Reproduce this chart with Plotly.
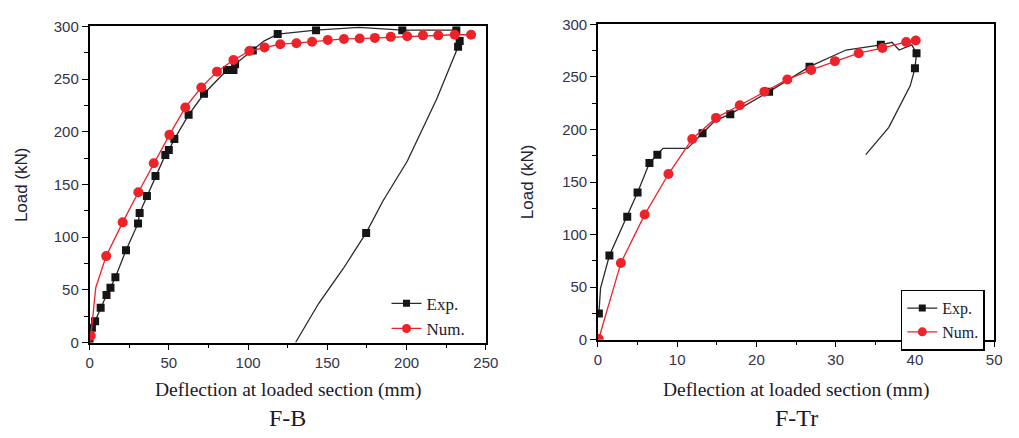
import plotly.graph_objects as go

W, H = 1019, 438

# ---------------- Data: F-B ----------------
fb_exp_x = [0, 1.5, 3.5, 7.0, 10.7, 13.2, 16.3, 23.0, 30.6, 31.6, 36.2, 41.6, 47.8, 50.0, 53.5,
            62.5, 72.2, 86.7, 90.8, 91.8, 103.0, 110.0, 118.7, 142.9, 170.0, 197.3, 231.4, 233.5,
            232.5, 219.0, 200.4, 185.0, 174.5, 160.0, 144.5, 130.0]
fb_exp_y = [0, 14, 20.3, 33, 45, 52, 62, 87.5, 113, 123, 139, 158, 178, 182.6, 193,
            216, 236, 258.6, 258.6, 264, 277, 286, 292.6, 296.3, 299, 296.3, 296.3, 286,
            280.5, 231, 172, 134, 104, 70, 37, 0]
fb_exp_unmarked = [21, 24, 29, 30, 31, 33, 34, 35]

fb_num_x = [0, 0.8, 1.9, 3.9, 10.5, 20.9, 30.8, 40.5, 50.4, 60.4, 70.5, 80.4, 90.8, 100.8,
            110.4, 120.3, 130.5, 140.4, 150.3, 160.5, 170.4, 180.0, 190.0, 200.4, 210.3,
            220.0, 230.4, 240.7]
fb_num_y = [0, 6.4, 22, 52, 82, 114, 142.5, 170, 197, 223, 242, 257, 268, 276.5,
            280, 283, 284, 285.4, 287, 288, 288.4, 289, 290, 290.6, 291.4,
            291.4, 292, 292]
fb_num_unmarked = [0, 2, 3]

# ---------------- Data: F-Tr ----------------
ftr_exp_x = [0.12, 0.33, 1.45, 3.7, 5.0, 6.5, 7.5, 8.2, 11.3, 13.2, 14.8, 16.7, 21.6, 26.7,
             31.3, 35.7, 37.1, 38.0, 39.6, 40.2, 40.0, 39.4, 36.7, 33.8]
ftr_exp_y = [25, 49, 80, 117, 140, 168, 176, 182, 182, 196.4, 208.5, 214.6, 236, 259.8,
             275.6, 280.5, 283, 275.6, 280.5, 272.6, 258.2, 241.5, 202, 176]
ftr_exp_unmarked = [1, 7, 8, 10, 14, 16, 17, 18, 21, 22, 23]

ftr_num_x = [0.1, 2.9, 5.9, 8.9, 11.9, 14.9, 17.9, 21.0, 23.9, 26.9, 29.9, 32.9, 35.9, 38.9, 40.1]
ftr_num_y = [0.6, 73, 119, 157.6, 191, 211, 223, 236, 247.6, 256.7, 265, 272.6, 277.5, 283.3, 284.7]
ftr_num_unmarked = []

series_names = ["Exp.", "Num."]
panel_titles = ["F-B", "F-Tr"]
x_title = "Deflection at loaded section (mm)"
y_title = "Load (kN)"

BLACK_LINE = "#2a2a2a"
BLACK_MK = "#151515"
RED = "#ee2229"


def split(xs, ys, unmarked):
    mx = [x for i, x in enumerate(xs) if i not in unmarked]
    my = [y for i, y in enumerate(ys) if i not in unmarked]
    return mx, my


fig = go.Figure()


def add_series(xs, ys, unmarked, color_line, color_mk, symbol, size, xa, ya, name, legend):
    fig.add_trace(go.Scatter(x=xs, y=ys, mode="lines", line=dict(color=color_line, width=1.3),
                             xaxis=xa, yaxis=ya, showlegend=False, hoverinfo="skip"))
    mx, my = split(xs, ys, unmarked)
    fig.add_trace(go.Scatter(x=mx, y=my, mode="markers",
                             marker=dict(color=color_mk, symbol=symbol, size=size, line=dict(width=0)),
                             xaxis=xa, yaxis=ya, showlegend=False))
    fig.add_trace(go.Scatter(x=[None], y=[None], mode="lines+markers", name=name,
                             line=dict(color=color_line, width=1.3),
                             marker=dict(color=color_mk, symbol=symbol, size=size - 1, line=dict(width=0)),
                             xaxis=xa, yaxis=ya, showlegend=True, legend=legend))


add_series(fb_exp_x, fb_exp_y, fb_exp_unmarked, BLACK_LINE, BLACK_MK, "square", 8, "x", "y", series_names[0], "legend")
add_series(fb_num_x, fb_num_y, fb_num_unmarked, RED, RED, "circle", 10, "x", "y", series_names[1], "legend")
add_series(ftr_exp_x, ftr_exp_y, ftr_exp_unmarked, BLACK_LINE, BLACK_MK, "square", 8, "x2", "y2", series_names[0], "legend2")
add_series(ftr_num_x, ftr_num_y, ftr_num_unmarked, RED, RED, "circle", 10, "x2", "y2", series_names[1], "legend2")

# plot areas (pixels)
L1 = (87, 490, 18, 347)
L2 = (604, 1007, 16, 344)


def dom_x(p):
    return [p[0] / W, p[1] / W]


def dom_y(p):
    return [(H - p[3]) / H, (H - p[2]) / H]


tickfont = dict(family="Liberation Sans, Arial, sans-serif", size=15, color="#33334a")
axis_common = dict(showline=True, linecolor="black", linewidth=1.5, mirror=True,
                   ticks="outside", ticklen=6, tickwidth=1.3, tickcolor="black",
                   showgrid=False, zeroline=False, tickfont=tickfont)

fig.update_layout(
    width=W, height=H, margin=dict(l=0, r=0, t=0, b=0),
    paper_bgcolor="white", plot_bgcolor="white",
    xaxis=dict(domain=dom_x(L1), range=[0, 250], dtick=50, tick0=0, anchor="y",
               minor=dict(ticks="outside", ticklen=4, dtick=25, tickcolor="black", tickwidth=1.2),
               **axis_common),
    yaxis=dict(domain=dom_y(L1), range=[0, 300], dtick=50, tick0=0, anchor="x",
               minor=dict(ticks="outside", ticklen=4, dtick=25, tickcolor="black", tickwidth=1.2),
               **axis_common),
    xaxis2=dict(domain=dom_x(L2), range=[0, 50], dtick=10, tick0=0, anchor="y2",
                minor=dict(ticks="outside", ticklen=4, dtick=5, tickcolor="black", tickwidth=1.2),
                **axis_common),
    yaxis2=dict(domain=dom_y(L2), range=[0, 300], dtick=50, tick0=0, anchor="x2",
                minor=dict(ticks="outside", ticklen=4, dtick=25, tickcolor="black", tickwidth=1.2),
                **axis_common),
    legend=dict(x=389 / W, y=(H - 288) / H, xanchor="left", yanchor="top",
                bgcolor="rgba(0,0,0,0)", borderwidth=0, tracegroupgap=0,
                font=dict(family="Liberation Serif, Times New Roman, serif", size=17, color="#1a1a2a")),
    legend2=dict(x=912 / W, y=(H - 292) / H, xanchor="left", yanchor="top",
                 bgcolor="white", bordercolor="black", borderwidth=1.5, tracegroupgap=0,
                 font=dict(family="Liberation Serif, Times New Roman, serif", size=16, color="#1a1a2a")),
)

serif = "Liberation Serif, Times New Roman, serif"
sans = "Liberation Sans, Arial, sans-serif"
annots = []
for p, t in zip([L1, L2], panel_titles):
    cx = (p[0] + p[1]) / 2 / W
    annots.append(dict(x=cx, y=(H - 396) / H, xref="paper", yref="paper", text=x_title,
                       showarrow=False, font=dict(family=serif, size=19.5, color="#1a1a2a"),
                       xanchor="center", yanchor="middle"))
    annots.append(dict(x=cx, y=(H - 426) / H, xref="paper", yref="paper", text=t,
                       showarrow=False, font=dict(family=serif, size=24, color="#1a1a2a"),
                       xanchor="center", yanchor="middle"))
for xc, p in zip([18, 532], [L1, L2]):
    annots.append(dict(x=xc / W, y=(H - (p[2] + p[3]) / 2) / H, xref="paper", yref="paper",
                       text=y_title, textangle=-90, showarrow=False,
                       font=dict(family=sans, size=17, color="#222233"),
                       xanchor="center", yanchor="middle"))
fig.update_layout(annotations=annots)

fig.write_html("out.html")
